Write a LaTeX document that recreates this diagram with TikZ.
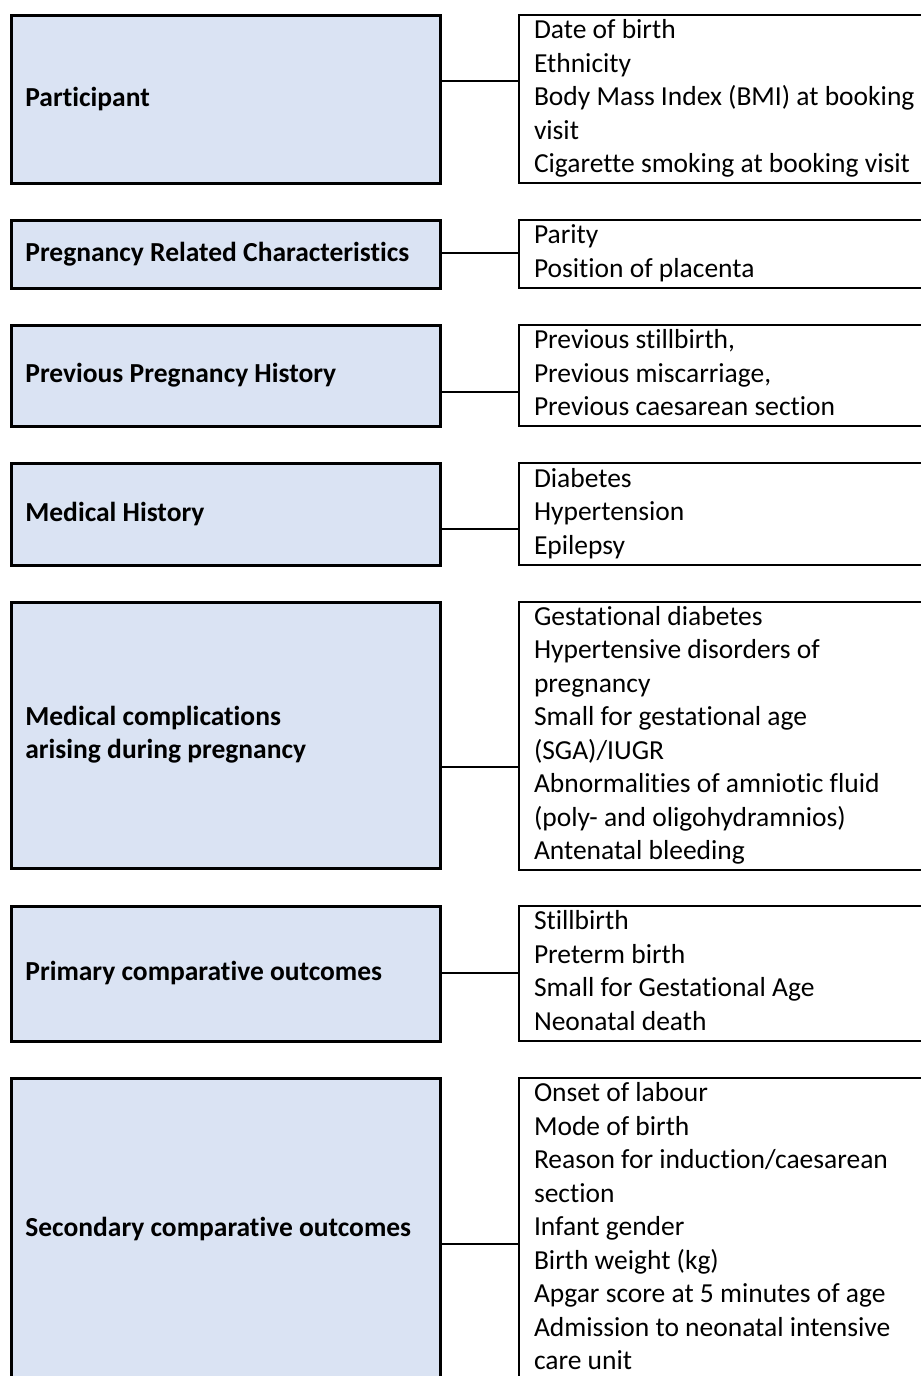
\documentclass[tikz,border=0pt]{standalone}
\usepackage{fontspec}
\setmainfont{Carlito}[Ligatures=CommonOff]
\usetikzlibrary{calc}
\definecolor{boxblue}{HTML}{DAE3F3}
\begin{document}
\begin{tikzpicture}[x=0.4pt,y=-0.4pt,
  lbox/.style={draw=black, line width=1.1pt, fill=boxblue, anchor=north west,
    minimum height=#1*0.4pt, text width=160.4pt, inner xsep=5.6pt, inner ysep=0pt,
    align=flush left, font=\bfseries\fontsize{11}{13.4}\selectfont},
  rbox/.style={draw=black, line width=0.8pt, anchor=north west,
    minimum height=#1*0.4pt, text width=170pt, inner xsep=6pt, inner ysep=0pt,
    align=flush left, font=\fontsize{11}{13.4}\selectfont},
  conn/.style={draw=black, line width=0.65pt}]
\useasboundingbox (0,0) rectangle (921,1376);
\clip (0,0) rectangle (921,1376);

% 1 Participant
\node[lbox=168] (l1) at (10,14) {\strut Participant};
\node[rbox=168] (r1) at (518,14) {\strut Date of birth\\\strut Ethnicity\\\strut Body Mass Index (BMI) at booking\\\strut visit\\\strut Cigarette smoking at booking visit};
\draw[conn] ($(l1.north east)+(0,67)$) -- ($(r1.north west)+(0,67)$);

% 2 Pregnancy related
\node[lbox=68] (l2) at (10,219) {\strut Pregnancy Related Characteristics};
\node[rbox=68] (r2) at (518,219) {\strut Parity\\\strut Position of placenta};
\draw[conn] ($(l2.north east)+(0,34)$) -- ($(r2.north west)+(0,34)$);

% 3 Previous pregnancy history
\node[lbox=101] (l3) at (10,324) {\strut Previous Pregnancy History};
\node[rbox=101] (r3) at (518,324) {\strut Previous stillbirth,\\\strut Previous miscarriage,\\\strut Previous caesarean section};
\draw[conn] ($(l3.north east)+(0,68)$) -- ($(r3.north west)+(0,68)$);

% 4 Medical history
\node[lbox=102] (l4) at (10,462) {\strut Medical History};
\node[rbox=102] (r4) at (518,462) {\strut Diabetes\\\strut Hypertension\\\strut Epilepsy};
\draw[conn] ($(l4.north east)+(0,67)$) -- ($(r4.north west)+(0,67)$);

% 5 Medical complications
\node[lbox=266] (l5) at (10,601) {\strut Medical complications\\\strut arising during pregnancy};
\node[rbox=266] (r5) at (518,601) {\strut Gestational diabetes\\\strut Hypertensive disorders of\\\strut pregnancy\\\strut Small for gestational age\\\strut (SGA)/IUGR\\\strut Abnormalities of amniotic fluid\\\strut (poly- and oligohydramnios)\\\strut Antenatal bleeding};
\draw[conn] ($(l5.north east)+(0,166)$) -- ($(r5.north west)+(0,166)$);

% 6 Primary comparative outcomes
\node[lbox=135] (l6) at (10,905) {\strut Primary comparative outcomes};
\node[rbox=135] (r6) at (518,905) {\strut Stillbirth\\\strut Preterm birth\\\strut Small for Gestational Age\\\strut Neonatal death};
\draw[conn] ($(l6.north east)+(0,68)$) -- ($(r6.north west)+(0,68)$);

% 7 Secondary comparative outcomes
\node[lbox=302] (l7) at (10,1077) {\strut Secondary comparative outcomes};
\node[rbox=302] (r7) at (518,1077) {\strut Onset of labour\\\strut Mode of birth\\\strut Reason for induction/caesarean\\\strut section\\\strut Infant gender\\\strut Birth weight (kg)\\\strut Apgar score at 5 minutes of age\\\strut Admission to neonatal intensive\\\strut care unit};
\draw[conn] ($(l7.north east)+(0,167)$) -- ($(r7.north west)+(0,167)$);
\end{tikzpicture}
\end{document}
